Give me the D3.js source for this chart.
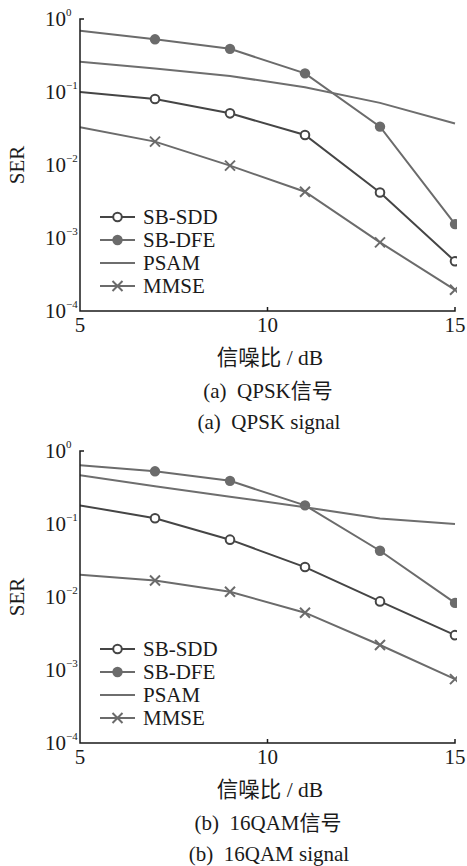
<!DOCTYPE html>
<html lang="zh">
  <head>
    <meta charset="utf-8">
    <title>SER vs SNR</title>
    <script src="https://cdn.jsdelivr.net/npm/d3@7"></script>
    <style>
      body { margin: 0; background: #fff; }
      svg text {
        font-family: "Liberation Serif", "Times New Roman", "Noto Sans CJK SC", serif;
        fill: #1a1a1a;
        white-space: pre;
      }
    </style>
  </head>
  <body>
    <script>

    //Data
    var snr = [5, 7, 9, 11, 13, 15];
    var seriesNames = ["SB-SDD", "SB-DFE", "PSAM", "MMSE"];
    var yTickExps = [0, -1, -2, -3, -4];
    var xTicks = [5, 10, 15];

    // (a) QPSK
    var qpskSdd  = [0.10, 0.080, 0.051, 0.0258, 0.0042, 0.00048];
    var qpskDfe  = [0.69, 0.527, 0.39, 0.18, 0.0335, 0.00155];
    var qpskPsam = [0.26, 0.21, 0.166, 0.116, 0.071, 0.037];
    var qpskMmse = [0.0328, 0.0209, 0.0098, 0.0043, 0.00087, 0.000195];

    // (b) 16QAM
    var qamSdd  = [0.18, 0.12, 0.061, 0.0257, 0.0087, 0.0030];
    var qamDfe  = [0.637, 0.527, 0.39, 0.18, 0.043, 0.0083];
    var qamPsam = [0.465, 0.33, 0.237, 0.17, 0.119, 0.10];
    var qamMmse = [0.0201, 0.0168, 0.0118, 0.0061, 0.0022, 0.00075];

    var xTitle = "信噪比 / dB";
    var captionsA = ["(a)  QPSK信号", "(a)  QPSK signal"];
    var captionsB = ["(b)  16QAM信号", "(b)  16QAM signal"];

    var w = 467, h = 866;
    var colors = {"SB-SDD": "#454545", "SB-DFE": "#6b6b6b", "PSAM": "#6e6e6e", "MMSE": "#6b6b6b"};
    var markers = {"SB-SDD": "open", "SB-DFE": "filled", "PSAM": "none", "MMSE": "cross"};

    var svg = d3.select("body").append("svg")
      .attr("width", w)
      .attr("height", h);

    function drawMarker(g, type, x, y, col) {
      if (type === "open") {
        g.append("circle").attr("cx", x).attr("cy", y).attr("r", 4.3)
          .attr("fill", "#fff").attr("stroke", col).attr("stroke-width", 2);
      } else if (type === "filled") {
        g.append("circle").attr("cx", x).attr("cy", y).attr("r", 5.2)
          .attr("fill", col);
      } else if (type === "cross") {
        var s = 5;
        g.append("path")
          .attr("d", "M" + (x - s) + "," + (y - s) + "L" + (x + s) + "," + (y + s) +
                     "M" + (x - s) + "," + (y + s) + "L" + (x + s) + "," + (y - s))
          .attr("stroke", col).attr("stroke-width", 2).attr("fill", "none");
      }
    }

    function drawPanel(id, top, series, captions) {
      var left = 80, right = 455, bottom = top + 292;

      var xScale = d3.scaleLinear().domain([5, 15]).range([left, right]);
      var yScale = d3.scaleLog().domain([1e-4, 1]).range([bottom, top]);

      var g = svg.append("g");

      //Clip
      svg.append("clipPath").attr("id", "clip" + id)
        .append("rect").attr("x", left).attr("y", top - 20)
        .attr("width", right - left + 2).attr("height", bottom - top + 20);

      var plot = g.append("g").attr("clip-path", "url(#clip" + id + ")");

      var line = d3.line()
        .x(function(d, i) { return xScale(snr[i]); })
        .y(function(d) { return yScale(d); });

      series.forEach(function(vals, k) {
        var name = seriesNames[k];
        var col = colors[name];
        plot.append("path")
          .datum(vals)
          .attr("d", line)
          .attr("fill", "none")
          .attr("stroke", col)
          .attr("stroke-width", 2);
        vals.forEach(function(v, i) {
          if (i === 0) return;
          drawMarker(plot, markers[name], xScale(snr[i]), yScale(v), col);
        });
      });

      //Axes
      g.append("path")
        .attr("d", "M" + (left + 4) + "," + top + "H" + left + "V" + bottom + "H" + right + "V" + (bottom - 4))
        .attr("fill", "none").attr("stroke", "#1a1a1a").attr("stroke-width", 1.5);
      g.append("line")
        .attr("x1", xScale(10)).attr("x2", xScale(10))
        .attr("y1", bottom).attr("y2", bottom - 4)
        .attr("stroke", "#1a1a1a").attr("stroke-width", 1.5);

      //X tick labels
      g.selectAll(".xt").data(xTicks).enter().append("text")
        .attr("x", function(d) { return xScale(d); })
        .attr("y", bottom + 21)
        .attr("text-anchor", "middle")
        .attr("font-size", 21)
        .text(function(d) { return d; });

      //Y tick labels
      yTickExps.forEach(function(e) {
        g.append("text")
          .attr("x", 66)
          .attr("y", yScale(Math.pow(10, e)) + 7)
          .attr("text-anchor", "end")
          .attr("font-size", 21)
          .text("10");
        g.append("text")
          .attr("x", 66)
          .attr("y", yScale(Math.pow(10, e)) - 3)
          .attr("font-size", 11)
          .text(e === 0 ? "0" : "\u2212" + (-e));
      });

      //Y title
      g.append("text")
        .attr("transform", "translate(24," + (top + 146) + ") rotate(-90)")
        .attr("text-anchor", "middle")
        .attr("font-size", 21)
        .text("SER");

      //X title and captions
      g.append("text").attr("x", 270).attr("y", bottom + 54)
        .attr("text-anchor", "middle").attr("font-size", 21.5).text(xTitle);
      g.append("text").attr("x", 268).attr("y", bottom + 87)
        .attr("text-anchor", "middle").attr("font-size", 21).text(captions[0]);
      g.append("text").attr("x", 269).attr("y", bottom + 118)
        .attr("text-anchor", "middle").attr("font-size", 21).text(captions[1]);

      //Legend
      var lg = g.append("g").attr("transform", "translate(100," + (top + 198) + ")");
      seriesNames.forEach(function(name, k) {
        var yy = k * 23;
        lg.append("line").attr("x1", 0).attr("x2", 35).attr("y1", yy).attr("y2", yy)
          .attr("stroke", colors[name]).attr("stroke-width", 2);
        drawMarker(lg, markers[name], 17.5, yy, colors[name]);
        lg.append("text").attr("x", 43).attr("y", yy + 7)
          .attr("font-size", 21).text(name);
      });
    }

    drawPanel("a", 19, [qpskSdd, qpskDfe, qpskPsam, qpskMmse], captionsA);
    drawPanel("b", 451, [qamSdd, qamDfe, qamPsam, qamMmse], captionsB);

    </script>
  </body>
</html>
